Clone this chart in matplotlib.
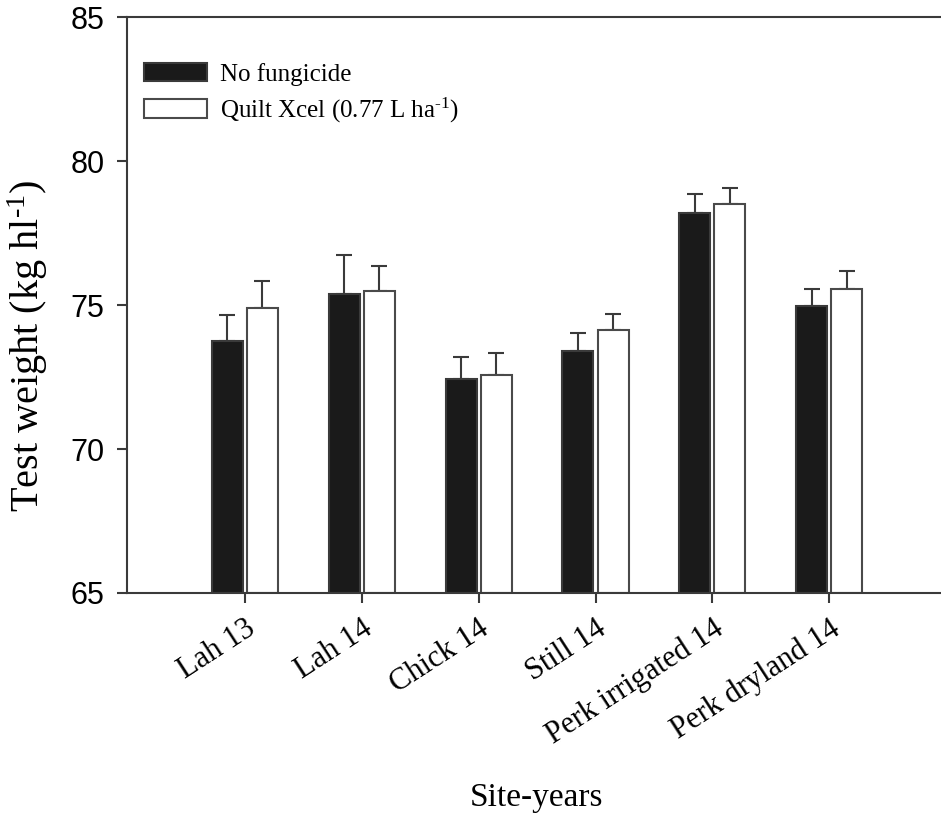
import numpy as np
import matplotlib
matplotlib.use("Agg")
import matplotlib.pyplot as plt

# site-years and test weights
sites = ["Lah 13", "Lah 14", "Chick 14", "Still 14", "Perk irrigated 14", "Perk dryland 14"]
no_fung = [73.74, 75.39, 72.43, 73.42, 78.22, 74.99]
no_fung_err = [0.91, 1.34, 0.76, 0.61, 0.65, 0.58]
quilt = [74.92, 75.48, 72.57, 74.15, 78.52, 75.57]
quilt_err = [0.91, 0.90, 0.77, 0.54, 0.57, 0.63]

serif = "Liberation Serif"
sans = "Liberation Sans"
edge = "#3a3a3a"

plt.rcParams["mathtext.fontset"] = "custom"
plt.rcParams["mathtext.rm"] = serif
plt.rcParams["mathtext.it"] = serif + ":italic"

fig = plt.figure(figsize=(9.41, 8.17), dpi=100)
ax = fig.add_axes([0.1346, 0.2742, 0.871, 0.7044])

x = np.arange(len(sites))
w = 0.265
off = 0.15
zeros = np.zeros(len(sites))

ax.bar(x - off, np.array(no_fung) - 65, w, bottom=65, color="#1a1a1a", edgecolor=edge,
       linewidth=1.5, label="No fungicide", zorder=2)
ax.bar(x + off, np.array(quilt) - 65, w, bottom=65, color="white", edgecolor="#4a4a4a",
       linewidth=1.5, label="Quilt Xcel (0.77 L ha$^{\\mathregular{\u20101}}$)", zorder=2)
ax.errorbar(x - off, no_fung, yerr=[zeros, no_fung_err], fmt="none", ecolor=edge,
            elinewidth=1.5, capsize=6, capthick=1.5, zorder=1)
ax.errorbar(x + off, quilt, yerr=[zeros, quilt_err], fmt="none", ecolor=edge,
            elinewidth=1.5, capsize=6, capthick=1.5, zorder=1)

ax.set_xlim(-1.01, 6)
ax.set_ylim(65, 85)
ax.set_yticks([65, 70, 75, 80, 85])
ax.set_xticks(x)
ax.set_xticklabels(sites, rotation=33, ha="right", rotation_mode="anchor",
                   fontsize=22, family=serif)
for lab in ax.get_yticklabels():
    lab.set_family(sans)
    lab.set_fontsize(22)

ax.spines["right"].set_visible(False)
for s in ["left", "bottom", "top"]:
    ax.spines[s].set_linewidth(1.5)
    ax.spines[s].set_color(edge)
ax.tick_params(axis="both", direction="out", length=7, width=1.5, color=edge, pad=8)
ax.tick_params(axis="y", pad=9)

ax.set_ylabel("Test weight (kg hl$^{\\mathregular{\u20101}}$)", fontsize=29, family=serif)
ax.yaxis.set_label_coords(-0.094, 0.43)
ax.set_xlabel("Site-years", fontsize=24, family=serif)
ax.xaxis.set_label_coords(0.5, -0.33)

leg = ax.legend(loc="upper left", bbox_to_anchor=(-0.006, 0.96), frameon=False,
                prop={"family": serif, "size": 18}, handlelength=2.5,
                handleheight=0.75, labelspacing=0.38, handletextpad=0.55)

fig.savefig("out.png", dpi=100)
